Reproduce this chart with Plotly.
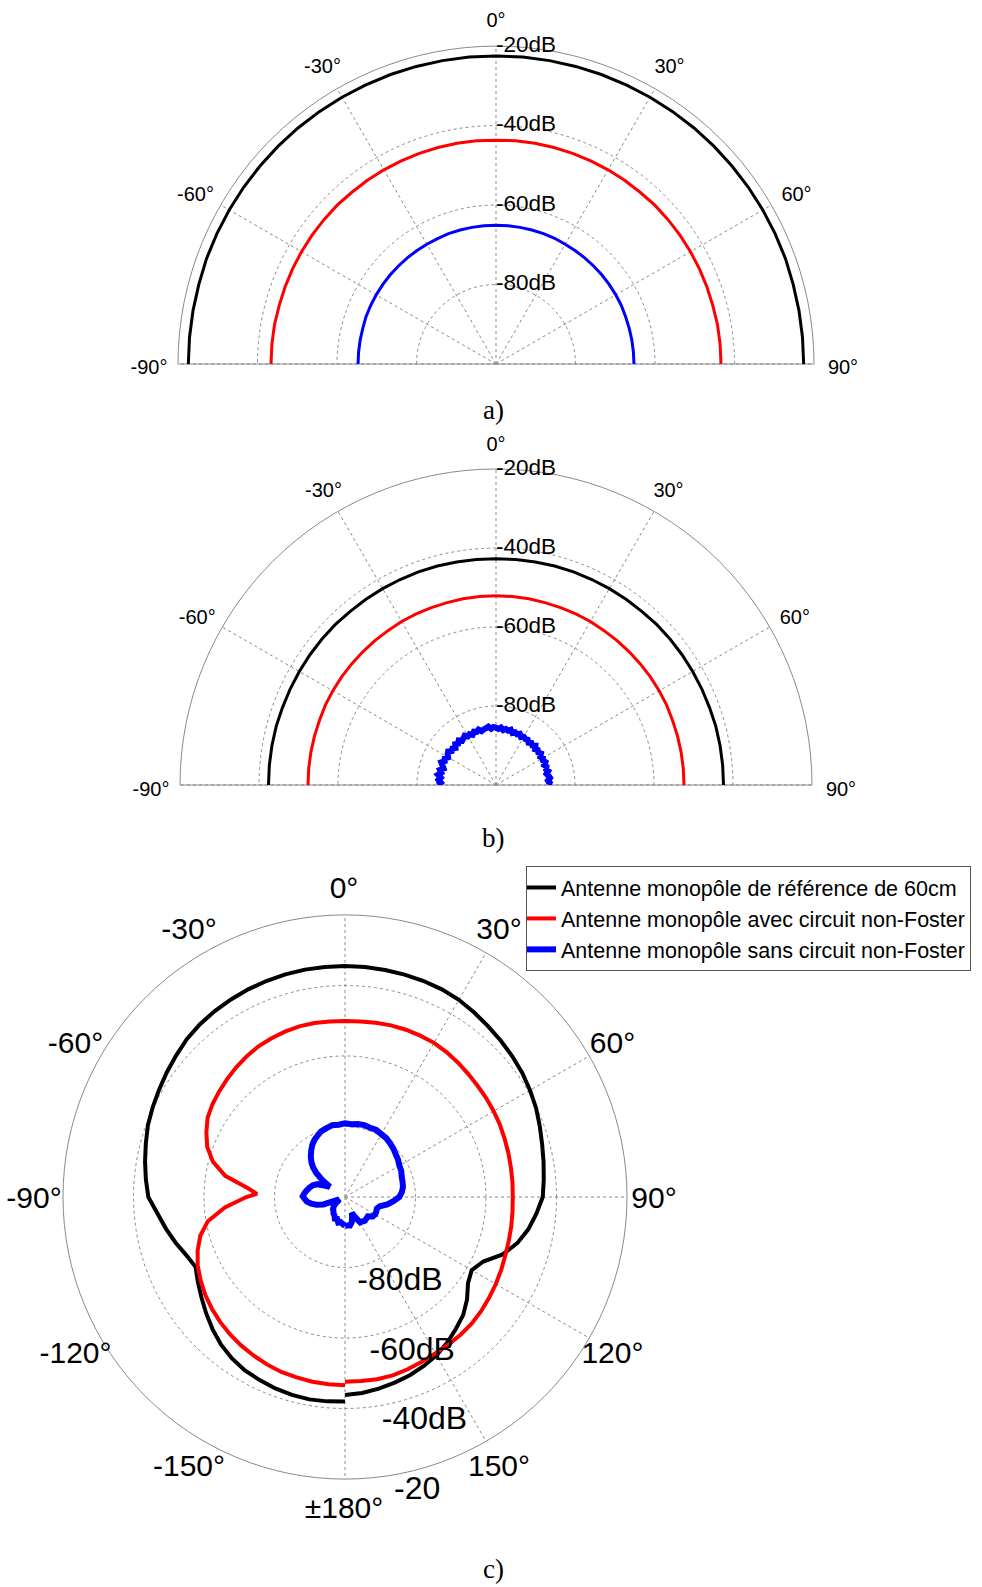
import plotly.graph_objects as go

FONT = "Liberation Sans"
SERIF = "Liberation Serif"
BLACK, RED, BLUE = "#000000", "#ff0000", "#0000ff"
GRID = "#8a8a8a"

# ---------------- Panel a) and b): half polar, theta from -90 to 90 ----------------
half_theta = list(range(-90, 91, 5))          # 37 angles (deg)
half_theta_fine = [-90 + 2.5 * i for i in range(73)]  # 73 angles (deg)

half_tickvals = [-90, -60, -30, 0, 30, 60, 90]
half_ticktext = ["-90°", "-60°", "-30°", "0°", "30°", "60°", "90°"]
half_rlabel_r = [-20, -40, -60, -80]
half_rlabel_text = ["-20dB", "-40dB", "-60dB", "-80dB"]

a_ref = [-22.6, -22.6, -22.6, -22.6, -22.5, -22.5, -22.5, -22.5, -22.5, -22.5,
         -22.5, -22.5, -22.5, -22.5, -22.5, -22.5, -22.5, -22.5, -22.5, -22.5,
         -22.5, -22.5, -22.5, -22.5, -22.5, -22.5, -22.5, -22.5, -22.5, -22.5,
         -22.5, -22.5, -22.5, -22.6, -22.6, -22.6, -22.6]
a_with = [-43.4, -43.4, -43.4, -43.5, -43.5, -43.5, -43.5, -43.5, -43.5, -43.5,
          -43.6, -43.6, -43.6, -43.6, -43.6, -43.6, -43.6, -43.6, -43.7, -43.6,
          -43.6, -43.6, -43.6, -43.6, -43.6, -43.6, -43.6, -43.5, -43.5, -43.5,
          -43.5, -43.5, -43.5, -43.5, -43.4, -43.4, -43.4]
a_without = [-65.3, -65.3, -65.3, -65.3, -65.2, -65.2, -65.2, -65.2, -65.2, -65.2,
             -65.2, -65.2, -65.2, -65.2, -65.1, -65.1, -65.1, -65.1, -65.1, -65.1,
             -65.1, -65.1, -65.1, -65.1, -65.2, -65.2, -65.2, -65.2, -65.2, -65.2,
             -65.2, -65.2, -65.3, -65.3, -65.3, -65.3, -65.3]

b_ref = [-42.4, -42.4, -42.4, -42.4, -42.5, -42.5, -42.5, -42.5, -42.5, -42.5,
         -42.6, -42.6, -42.6, -42.6, -42.6, -42.6, -42.7, -42.7, -42.7, -42.7,
         -42.7, -42.6, -42.6, -42.6, -42.6, -42.6, -42.6, -42.5, -42.5, -42.5,
         -42.5, -42.5, -42.5, -42.4, -42.4, -42.4, -42.4]
b_with = [-52.4, -52.4, -52.4, -52.4, -52.4, -52.3, -52.3, -52.3, -52.3, -52.3,
          -52.3, -52.3, -52.2, -52.2, -52.2, -52.2, -52.1, -52.1, -52.1, -52.1,
          -52.1, -52.2, -52.2, -52.2, -52.2, -52.3, -52.3, -52.3, -52.3, -52.3,
          -52.3, -52.3, -52.4, -52.4, -52.4, -52.4, -52.4]
b_without = [-85.2, -86.0, -85.4, -85.9, -85.1, -85.8, -85.3, -86.1, -85.6, -85.0,
             -85.7, -85.4, -86.0, -85.5, -85.2, -85.9, -85.6, -86.1, -85.4, -85.8,
             -85.3, -85.9, -85.6, -85.2, -85.8, -85.5, -86.0, -85.4, -85.7, -85.3,
             -85.9, -85.6, -85.4, -85.1, -85.7, -85.3, -85.5, -85.8, -85.4, -86.0,
             -85.6, -85.9, -85.5, -86.2, -85.8, -86.1, -85.7, -86.3, -85.9, -86.2,
             -86.0, -86.5, -86.1, -86.4, -85.9, -86.6, -86.2, -86.5, -86.1, -86.7,
             -86.3, -86.6, -86.2, -86.8, -86.4, -86.7, -86.3, -86.9, -86.5, -86.2,
             -86.8, -86.4, -86.7]

# ---------------- Panel c): full polar, theta from -180 to 180 ----------------
full_theta = list(range(-180, 181, 5))        # 73 angles (deg)
full_tickvals = [0, 30, 60, 90, 120, 150, 180, -150, -120, -90, -60, -30]
full_ticktext = ["0°", "30°", "60°", "90°", "120°", "150°", "±180°",
                 "-150°", "-120°", "-90°", "-60°", "-30°"]
full_rlabel_r = [-80, -60, -40, -20]
full_rlabel_text = ["-80dB", "-60dB", "-40dB", "-20"]

c_ref = [-42.0, -41.8, -41.7, -41.9, -42.2, -42.7, -43.2, -44.1, -45.3, -46.9,
         -48.6, -50.3, -51.8, -53.2, -52.0, -50.2, -48.4, -46.6, -44.2, -43.3,
         -42.4, -41.5, -40.5, -39.8, -39.1, -38.3, -37.5, -36.6, -36.0, -35.6,
         -35.3, -35.0, -34.8, -34.6, -34.5, -34.5, -34.5, -34.5, -34.6, -34.7,
         -34.8, -35.0, -35.4, -36.1, -36.8, -37.4, -38.0, -38.6, -39.4, -40.2,
         -41.2, -42.1, -42.8, -43.4, -43.9, -45.5, -47.2, -49.4, -52.4, -56.7,
         -58.5, -57.4, -54.8, -52.6, -51.1, -49.5, -48.1, -47.1, -46.2, -45.5,
         -44.8, -44.2, -43.8]

c_with_theta = [-180, -175, -170, -165, -160, -155, -150, -145, -140, -135,
                -130, -125, -120, -115, -110, -105, -100, -95, -90, -88,
                -85, -80, -75, -70, -65, -60, -55, -50, -45, -40,
                -35, -30, -25, -20, -15, -10, -5, 0, 5, 10,
                15, 20, 25, 30, 35, 40, 45, 50, 55, 60,
                65, 70, 75, 80, 85, 90, 95, 100, 105, 110,
                115, 120, 125, 130, 135, 140, 145, 150, 155, 160,
                165, 170, 175, 180]
c_with = [-46.6, -46.7, -46.8, -47.0, -47.2, -47.6, -48.1, -48.6, -49.2, -49.9,
          -50.7, -51.6, -52.7, -53.9, -55.5, -57.5, -60.5, -65.8, -72.0, -75.0,
          -72.5, -65.5, -61.2, -58.4, -56.6, -55.0, -54.1, -53.4, -52.7, -52.0,
          -51.3, -50.7, -50.4, -50.1, -49.9, -49.9, -50.0, -50.1, -50.0, -49.8,
          -49.6, -49.5, -49.5, -49.5, -49.8, -50.2, -50.6, -50.9, -51.1, -51.3,
          -51.5, -51.8, -52.0, -52.2, -52.3, -52.4, -52.3, -52.1, -51.9, -51.6,
          -51.1, -50.6, -50.1, -49.6, -49.2, -49.0, -48.9, -48.8, -48.4, -48.0,
          -47.6, -47.5, -47.6, -47.6]

c_without_theta = [-180, -175, -170, -165, -160, -155, -150, -145, -140, -136,
                   -130, -124, -118, -113, -109, -105, -101, -97, -93, -89,
                   -85, -80, -75, -70, -65, -60, -56, -53, -50, -47,
                   -44, -40, -36, -32, -28, -24, -20, -15, -10, -5,
                   0, 5, 10, 15, 20, 25, 30, 35, 40, 45,
                   50, 55, 60, 65, 70, 75, 80, 85, 90, 95,
                   100, 105, 110, 115, 120, 125, 130, 135, 140, 145,
                   149, 153, 157, 161, 165, 170, 175, 180]
c_without = [-91.8, -92.3, -92.8, -92.5, -93.4, -93.2, -94.0, -94.3, -94.9, -95.1,
             -95.8, -96.8, -97.9, -98.2, -93.5, -91.6, -90.2, -89.1, -88.6, -88.0,
             -88.4, -89.0, -89.6, -90.3, -91.4, -93.6, -94.8, -91.8, -89.3, -87.6,
             -86.3, -84.9, -83.7, -82.5, -81.6, -80.9, -80.2, -79.8, -79.3, -79.4,
             -79.1, -79.3, -79.0, -78.9, -79.1, -79.0, -79.4, -79.6, -80.1, -80.6,
             -81.2, -81.6, -82.2, -82.4, -82.9, -83.1, -83.3, -83.8, -84.6, -86.2,
             -87.8, -89.8, -90.4, -90.2, -90.1, -90.4, -91.5, -91.4, -91.2, -91.5,
             -91.6, -93.5, -95.1, -93.8, -92.6, -91.8, -91.9, -91.8]

legend_names = ["Antenne monopôle de référence de 60cm",
                "Antenne monopôle avec circuit non-Foster",
                "Antenne monopôle sans circuit non-Foster"]
captions = ["a)", "b)", "c)"]

W, H = 982, 1587
R_RANGE = [-100, -20]

fig = go.Figure()


def line(r, theta, color, width, subplot, name=None, legend=False):
    fig.add_trace(go.Scatterpolar(
        r=r, theta=theta, mode="lines", line=dict(color=color, width=width),
        subplot=subplot, name=name, showlegend=legend, hoverinfo="skip"))


def labels(r, theta, text, size, pos, subplot):
    fig.add_trace(go.Scatterpolar(
        r=r, theta=theta, mode="text", text=text, textposition=pos,
        textfont=dict(family=FONT, size=size, color="black"),
        subplot=subplot, showlegend=False, hoverinfo="skip", cliponaxis=False))


# panel a
line(a_ref, half_theta, BLACK, 3, "polar")
line(a_with, half_theta, RED, 3, "polar")
line(a_without, half_theta, BLUE, 3, "polar")
labels(half_rlabel_r, [0] * 4, half_rlabel_text, 22.5, "middle right", "polar")
# angular tick labels on an outer, label-only polar ring (r at its outer edge)
labels([R_RANGE[1]] * 7, half_tickvals, half_ticktext, 20, "middle center", "polar4")

# panel b
line(b_ref, half_theta, BLACK, 3, "polar2")
line(b_with, half_theta, RED, 3, "polar2")
line(b_without, half_theta_fine, BLUE, 6, "polar2")
labels(half_rlabel_r, [0] * 4, half_rlabel_text, 22.5, "middle right", "polar2")
labels([R_RANGE[1]] * 7, half_tickvals, half_ticktext, 20, "middle center", "polar5")

# panel c
line(c_ref, full_theta, BLACK, 4, "polar3", legend_names[0], True)
line(c_with, c_with_theta, RED, 4, "polar3", legend_names[1], True)
line(c_without, c_without_theta, BLUE, 6, "polar3", legend_names[2], True)
labels(full_rlabel_r, [170] * 4, full_rlabel_text, 32, "bottom right", "polar3")
labels([R_RANGE[1]] * 12, full_tickvals, full_ticktext, 30, "middle center", "polar6")


def px_domain(cx, cy, R, half):
    x0, x1 = (cx - R) / W, (cx + R) / W
    ytop = cy - R
    ybot = cy if half else cy + R
    return [x0, x1], [1 - ybot / H, 1 - ytop / H]


def polar_layout(cx, cy, R, half, tickvals, rtickvals):
    dx, dy = px_domain(cx, cy, R, half)
    d = dict(
        domain=dict(x=dx, y=dy),
        bgcolor="white",
        angularaxis=dict(
            rotation=90, direction="clockwise", tickmode="array",
            tickvals=tickvals, showticklabels=False,
            showline=True, linecolor=GRID, linewidth=1,
            showgrid=True, gridcolor=GRID, griddash="dot", gridwidth=1,
            ticks="", layer="below traces"),
        radialaxis=dict(
            range=R_RANGE, tickmode="array", tickvals=rtickvals,
            showticklabels=False, ticks="", showline=False, showgrid=True,
            gridcolor=GRID, griddash="dot", gridwidth=1, layer="below traces"),
    )
    if half:
        d["sector"] = [0, 180]
    return d


def label_ring_layout(cx, cy, R, half):
    dx, dy = px_domain(cx, cy, R, half)
    d = dict(
        domain=dict(x=dx, y=dy),
        bgcolor="rgba(0,0,0,0)",
        angularaxis=dict(rotation=90, direction="clockwise", visible=False,
                         showline=False, showgrid=False, showticklabels=False, ticks=""),
        radialaxis=dict(range=R_RANGE, visible=False, showline=False, showgrid=False,
                        showticklabels=False, ticks=""),
    )
    if half:
        d["sector"] = [0, 180]
    return d


fig.update_layout(
    width=W, height=H, margin=dict(l=0, r=0, t=0, b=0),
    paper_bgcolor="white", plot_bgcolor="white",
    font=dict(family=FONT, color="black"),
    polar=polar_layout(496, 364, 318, True, half_tickvals, [-80, -60, -40]),
    polar2=polar_layout(496, 785, 316, True, half_tickvals, [-80, -60, -40]),
    polar3=polar_layout(345, 1197, 282, False, full_tickvals, [-80, -60, -40]),
    polar4=label_ring_layout(496, 369, 347, True),
    polar5=label_ring_layout(496, 791, 345, True),
    polar6=label_ring_layout(344, 1200, 310, False),
    legend=dict(
        x=526 / W, y=1 - 866 / H, xanchor="left", yanchor="top",
        bgcolor="white", bordercolor="#555555", borderwidth=1,
        font=dict(family=FONT, size=21.5, color="black"),
        indentation=-6, tracegroupgap=0),
    showlegend=True,
)

for cap, ypx in zip(captions, [410, 838, 1569]):
    fig.add_annotation(text=cap, x=493 / W, y=1 - ypx / H, xref="paper", yref="paper",
                       showarrow=False, xanchor="center", yanchor="middle",
                       font=dict(family=SERIF, size=27, color="black"))

fig.write_html("out.html", config={"displayModeBar": False},
               post_script="document.body.style.margin='0px';document.body.style.overflow='hidden';")
